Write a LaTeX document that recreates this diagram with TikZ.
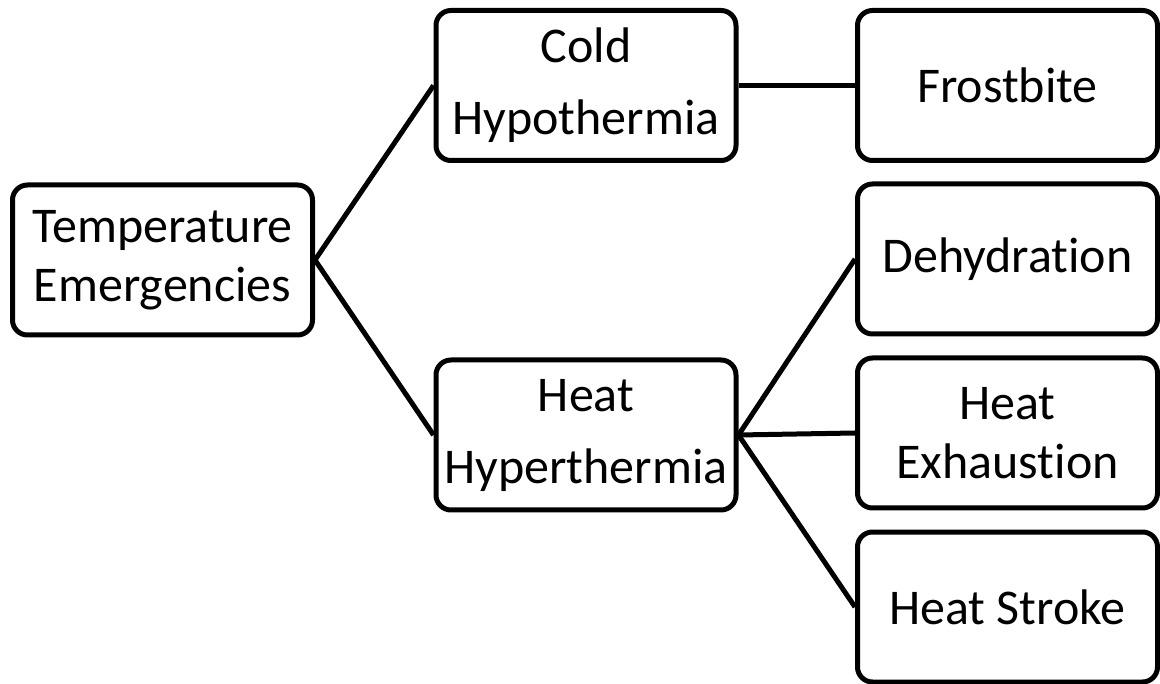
\documentclass[tikz,border=0pt]{standalone}
\usepackage{fontspec}
\setmainfont{Carlito}[Ligatures=NoCommon]
\usepackage{tikz}
\begin{document}
\begin{tikzpicture}[x=1pt,y=-1pt,
   box/.style={draw,line width=5pt,rounded corners=15pt,minimum width=300pt,
     minimum height=150pt,inner sep=0pt,align=center,font=\fontsize{50}{59}\selectfont},
   link/.style={line width=5pt}]
\useasboundingbox (0,0) rectangle (1160,684);
% left column, middle column, right column
\node[box] (temp) at (162.5,260) {Temperature\\Emergencies};
\node[box] (cold) at (586,85.5) {Cold\\[13pt]Hypothermia};
\node[box] (heat) at (586,435) {Heat\\[13pt]Hyperthermia};
\node[box] (frost) at (1007.5,85.5) {Frostbite};
\node[box] (dehyd) at (1007.5,259) {Dehydration};
\node[box] (exhaust) at (1007.5,433) {Heat\\Exhaustion};
\node[box] (stroke) at (1007.5,607) {Heat Stroke};
% connectors
\foreach \t in {cold,heat}{\draw[link] (temp.east) -- (\t.west);}
\draw[link] (cold.east) -- (frost.west);
\foreach \t in {dehyd,exhaust,stroke}{\draw[link] (heat.east) -- (\t.west);}
\end{tikzpicture}
\end{document}
